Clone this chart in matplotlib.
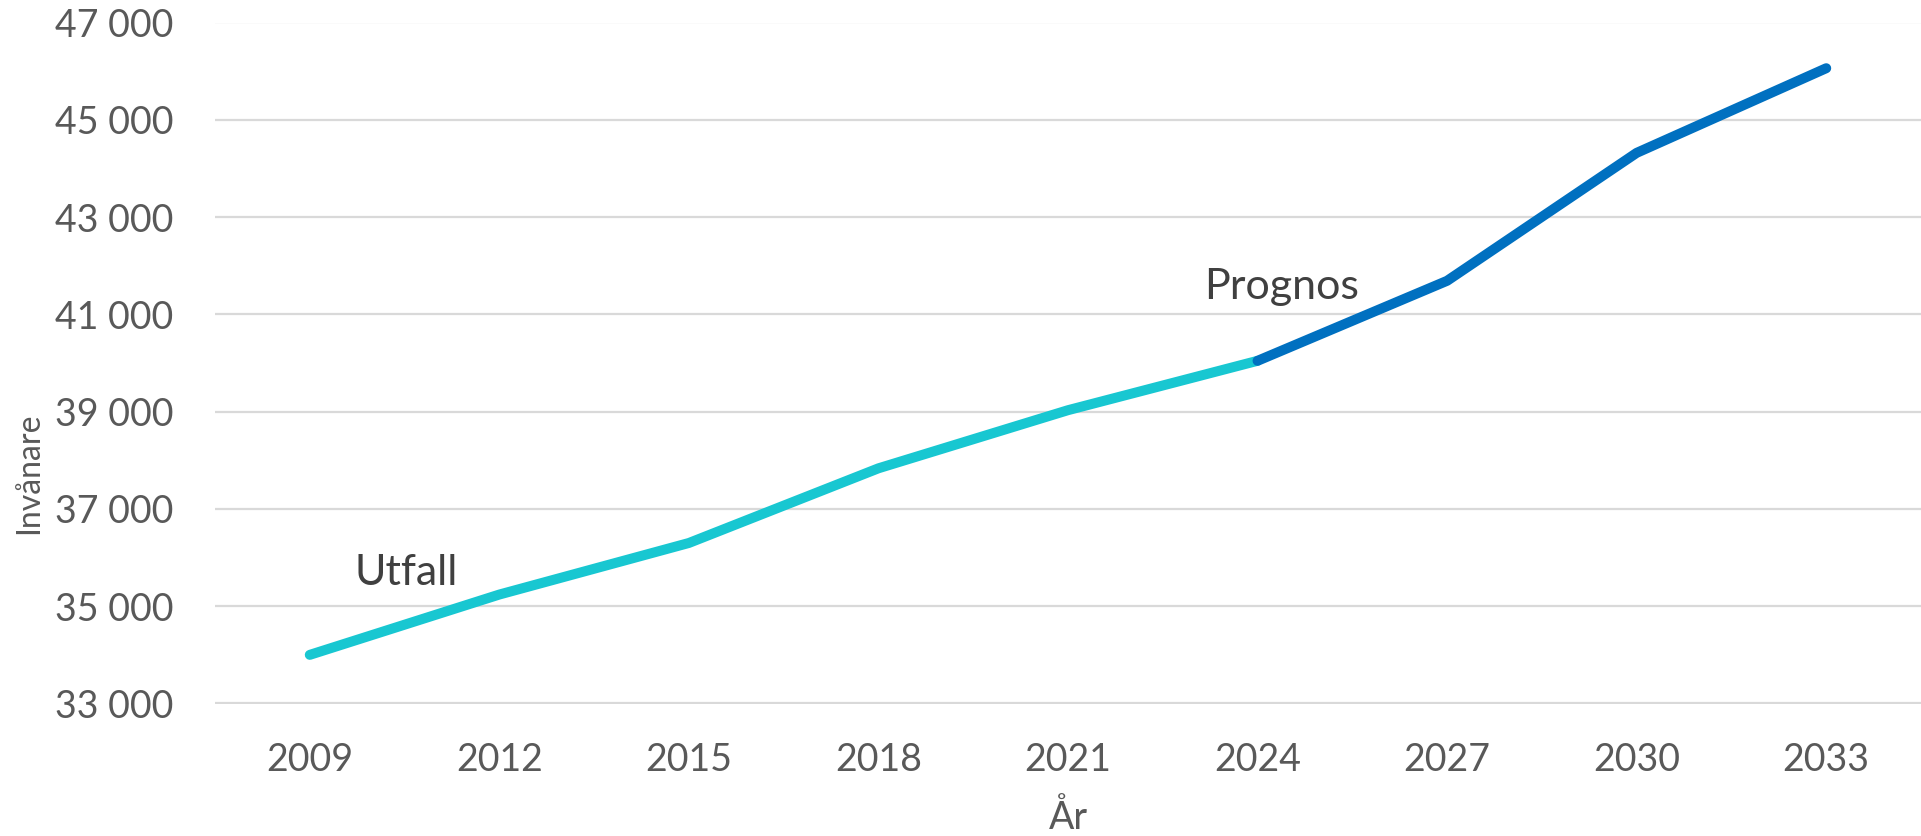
import matplotlib
matplotlib.use("Agg")
import matplotlib.pyplot as plt

plt.rcParams['font.family'] = ['Lato', 'DejaVu Sans']

years = [2009, 2012, 2015, 2018, 2021, 2024, 2027, 2030, 2033]
utfall_years = [2009, 2012, 2015, 2018, 2021, 2024]
utfall = [34000, 35240, 36300, 37835, 39030, 40045]
prognos_years = [2024, 2027, 2030, 2033]
prognos = [40045, 41690, 44320, 46060]
yticks = [33000, 35000, 37000, 39000, 41000, 43000, 45000, 47000]

fig = plt.figure(figsize=(19.21, 8.36), dpi=100)
ax = fig.add_axes([215 / 1921, 1 - 703.5 / 836, 1 - 215 / 1921, (703.5 - 22.5) / 836])

ax.plot(utfall_years, utfall, color='#18C7D1', lw=7.2, solid_capstyle='round', zorder=3)
ax.plot(prognos_years, prognos, color='#0070C0', lw=7.2, solid_capstyle='round', zorder=4)

ax.set_xlim(2007.5, 2034.5)
ax.set_ylim(33000, 47000)
ax.set_xticks(years)
ax.set_yticks(yticks)
ax.set_yticklabels([f"{v:,}".replace(",", " ") for v in yticks])
ax.tick_params(length=0, labelsize=27, labelcolor='#595959')
ax.tick_params(axis='y', pad=30)
ax.tick_params(axis='x', pad=28)
ax.grid(axis='y', color='#D9D9D9', lw=1.6)
ax.set_axisbelow(True)
for s in ax.spines.values():
    s.set_visible(False)

ax.text(2009.7, 35430, "Utfall", fontsize=31, color='#404040', va='baseline', ha='left')
ax.text(2023.15, 41310, "Prognos", fontsize=31, color='#404040', va='baseline', ha='left')

fig.text(1068 / 1921, 7 / 836, "År", fontsize=27, color='#595959', ha='center', va='baseline')
fig.text(29 / 1921, 363 / 836, "Invånare", fontsize=23, color='#595959', ha='center', va='center',
         rotation=90)

fig.savefig("out.png", dpi=100)
